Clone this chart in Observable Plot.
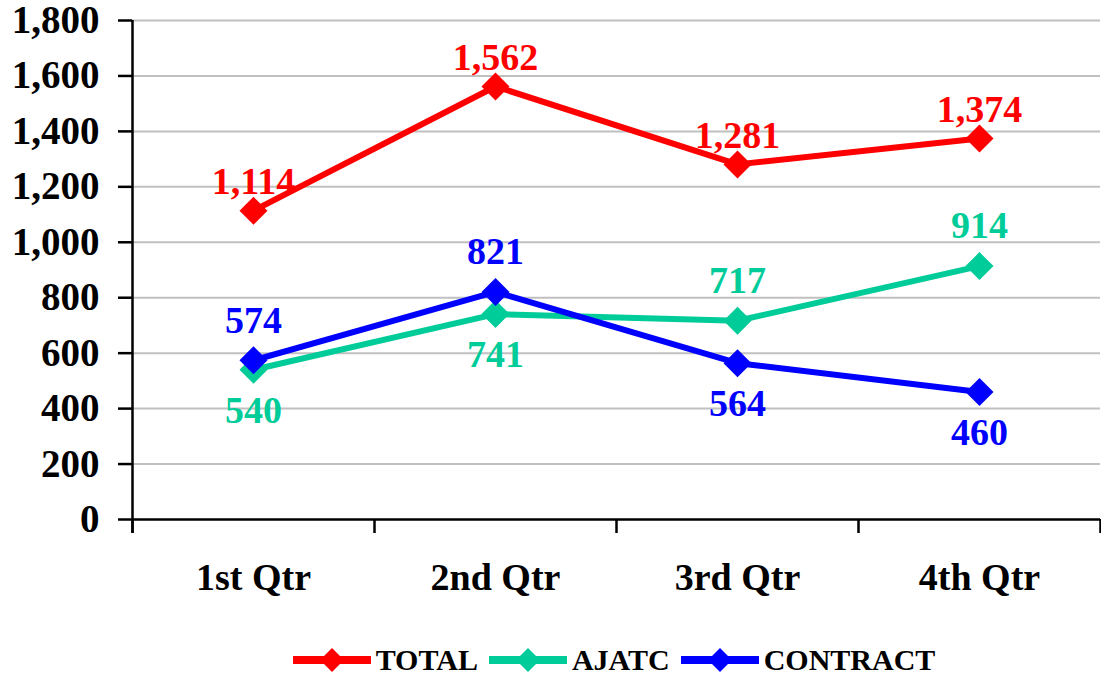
<!DOCTYPE html>
<html>
<head>
<meta charset="utf-8">
<script src="https://cdn.jsdelivr.net/npm/d3@7"></script>
<script src="https://cdn.jsdelivr.net/npm/@observablehq/plot@0.6"></script>
<style>
  html, body { margin: 0; padding: 0; background: #fff; }
  #chart { width: 1101px; }
  .legend { display: flex; justify-content: center; align-items: center; gap: 11px;
    font-family: "Liberation Serif", "Times New Roman", serif; font-weight: bold; font-size: 30px;
    margin-top: 23px; margin-left: 164px; width: 900px; }
  .legend .item { display: flex; align-items: center; gap: 5px; }
</style>
</head>
<body>
<div id="chart"></div>
<script>
const quarters = ["1st Qtr", "2nd Qtr", "3rd Qtr", "4th Qtr"];
const seriesNames = ["TOTAL", "AJATC", "CONTRACT"];
const seriesColors = ["#FF0000", "#00CC99", "#0000FF"];
const totalValues = [1114, 1562, 1281, 1374];
const ajatcValues = [540, 741, 717, 914];
const contractValues = [574, 821, 564, 460];
const totalLabelSide = ["above", "above", "above", "above"];
const ajatcLabelSide = ["below", "below", "above", "above"];
const contractLabelSide = ["above", "above", "below", "below"];
const yTicks = [0, 200, 400, 600, 800, 1000, 1200, 1400, 1600, 1800];

const rows = [];
[[totalValues, totalLabelSide], [ajatcValues, ajatcLabelSide], [contractValues, contractLabelSide]]
  .forEach(([vals, sides], si) => vals.forEach((v, i) =>
    rows.push({series: seriesNames[si], quarter: quarters[i], value: v, side: sides[i]})));

const diamond = {
  draw(context, size) {
    const r = Math.sqrt(size / Math.PI);
    context.moveTo(0, -r); context.lineTo(r, 0); context.lineTo(0, r); context.lineTo(-r, 0); context.closePath();
  }
};

const font = '"Liberation Serif", "Times New Roman", serif';
const fmt = d3.format(",");
const drawOrder = ["TOTAL", "AJATC", "CONTRACT"];
const BW = 242; // band width in px (968/4), used to offset boundary ticks

const chart = Plot.plot({
  width: 1101,
  height: 620,
  marginTop: 20,
  marginBottom: 101,
  marginLeft: 132,
  marginRight: 1,
  style: {fontFamily: font, fontWeight: "bold", background: "white", overflow: "visible"},
  x: {type: "band", domain: quarters, padding: 0, label: null, axis: null},
  y: {domain: [0, 1800], label: null, axis: null},
  color: {domain: seriesNames, range: seriesColors},
  marks: [
    Plot.ruleY(yTicks.filter(d => d > 0), {stroke: "#c0c0c0", strokeWidth: 2}),
    Plot.axisY({ticks: yTicks, tickFormat: fmt, tickSize: 14, tickPadding: 19, fontSize: 39, strokeWidth: 2.5, fontWeight: "bold", label: null}),
    Plot.tickX(quarters, {x: d => d, dx: -BW / 2, insetTop: 499, insetBottom: -14, stroke: "black", strokeWidth: 2.5}),
    Plot.tickX(quarters.slice(-1), {x: d => d, dx: BW / 2, insetTop: 499, insetBottom: -14, stroke: "black", strokeWidth: 2.5}),
    Plot.tickX(quarters.slice(0, 1), {x: d => d, dx: -BW / 2, insetTop: 0, insetBottom: -14, stroke: "black", strokeWidth: 2.5}),
    Plot.ruleY([0], {stroke: "black", strokeWidth: 2.5}),
    Plot.axisX({ticks: quarters, tickSize: 0, tickPadding: 44, fontSize: 38, fontWeight: "bold", label: null}),
    ...drawOrder.map(s => Plot.line(rows.filter(r => r.series === s), {x: "quarter", y: "value", stroke: "series", strokeWidth: 6, strokeLinejoin: "miter"})),
    ...drawOrder.map(s => Plot.dot(rows.filter(r => r.series === s), {x: "quarter", y: "value", fill: "series", symbol: diamond, r: 14, stroke: null})),
    Plot.text(rows.filter(r => r.side === "above" && r.series === "TOTAL"), {x: "quarter", y: "value", text: d => fmt(d.value), fill: "series", fontSize: 38, fontWeight: "bold", dy: -29}),
    Plot.text(rows.filter(r => r.side === "above" && r.series !== "TOTAL"), {x: "quarter", y: "value", text: d => fmt(d.value), fill: "series", fontSize: 38, fontWeight: "bold", dy: -40}),
    Plot.text(rows.filter(r => r.side === "below"), {x: "quarter", y: "value", text: d => fmt(d.value), fill: "series", fontSize: 38, fontWeight: "bold", dy: 41})
  ]
});

document.getElementById("chart").append(chart);

const legend = document.createElement("div");
legend.className = "legend";
seriesNames.forEach((name, i) => {
  const item = document.createElement("div");
  item.className = "item";
  item.innerHTML = `<svg width="78" height="30"><line x1="0" y1="15" x2="78" y2="15" stroke="${seriesColors[i]}" stroke-width="8"/><path d="M39,3 L51,15 L39,27 L27,15 Z" fill="${seriesColors[i]}"/></svg><span>${name}</span>`;
  legend.append(item);
});
document.getElementById("chart").append(legend);
</script>
</body>
</html>
